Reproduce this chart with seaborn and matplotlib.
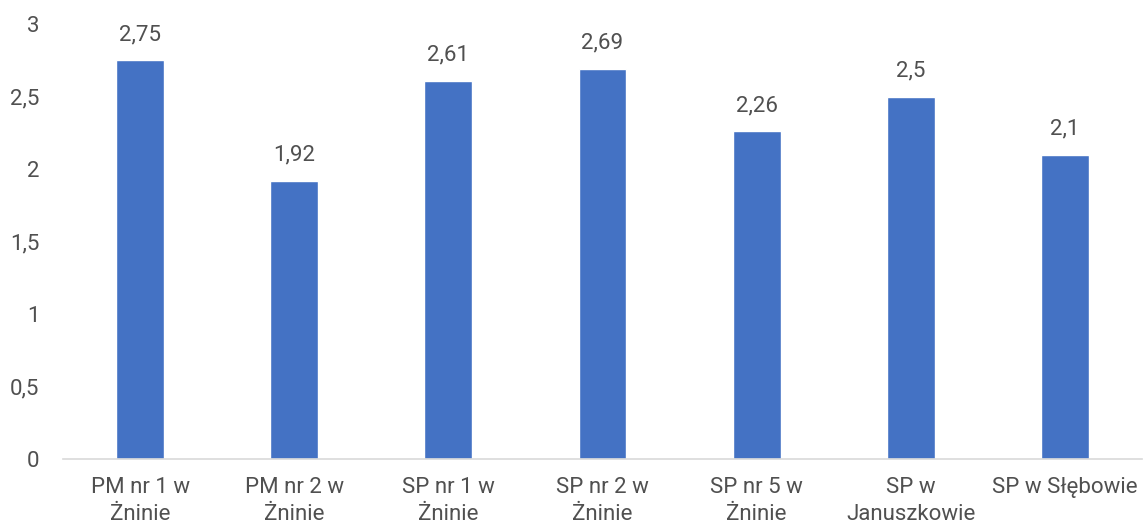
import matplotlib
matplotlib.use("Agg")
import matplotlib.pyplot as plt
import seaborn as sns
import pandas as pd

categories = ["PM nr 1 w\nŻninie", "PM nr 2 w\nŻninie", "SP nr 1 w\nŻninie",
              "SP nr 2 w\nŻninie", "SP nr 5 w\nŻninie", "SP w\nJanuszkowie",
              "SP w Słębowie"]
values = [2.75, 1.92, 2.61, 2.69, 2.26, 2.5, 2.1]
value_labels = ["2,75", "1,92", "2,61", "2,69", "2,26", "2,5", "2,1"]
yticks = [0, 0.5, 1, 1.5, 2, 2.5, 3]
ytick_labels = ["0", "0,5", "1", "1,5", "2", "2,5", "3"]

sns.set_theme(style="white")
plt.rcParams['font.family'] = ['Roboto', 'DejaVu Sans']
text_color = "#505050"

df = pd.DataFrame({"cat": categories, "val": values})
fig = plt.figure(figsize=(11.46, 5.27), dpi=100)
ax = fig.add_axes([63/1146, 1-459/527, (1142-63)/1146, (459-24)/527])
sns.barplot(data=df, x="cat", y="val", color="#4472C4", width=0.31,
            saturation=1, ax=ax)

ax.set_ylim(0, 3)
ax.set_xlim(-0.5, len(categories) - 0.5)
ax.set_yticks(yticks)
ax.set_yticklabels(ytick_labels)
ax.set_xlabel("")
ax.set_ylabel("")
for s in ["top", "right", "left"]:
    ax.spines[s].set_visible(False)
ax.spines["bottom"].set_color("#D9D9D9")
ax.spines["bottom"].set_linewidth(1.2)
ax.tick_params(axis="both", length=0, labelsize=16, colors=text_color)
ax.tick_params(axis="y", pad=17)
ax.tick_params(axis="x", pad=13)
for lbl in ax.get_xticklabels():
    lbl.set_linespacing(1.35)

for container in ax.containers:
    ax.bar_label(container, labels=value_labels, padding=11, fontsize=16,
                 color=text_color)

fig.savefig("out.png", dpi=100)
